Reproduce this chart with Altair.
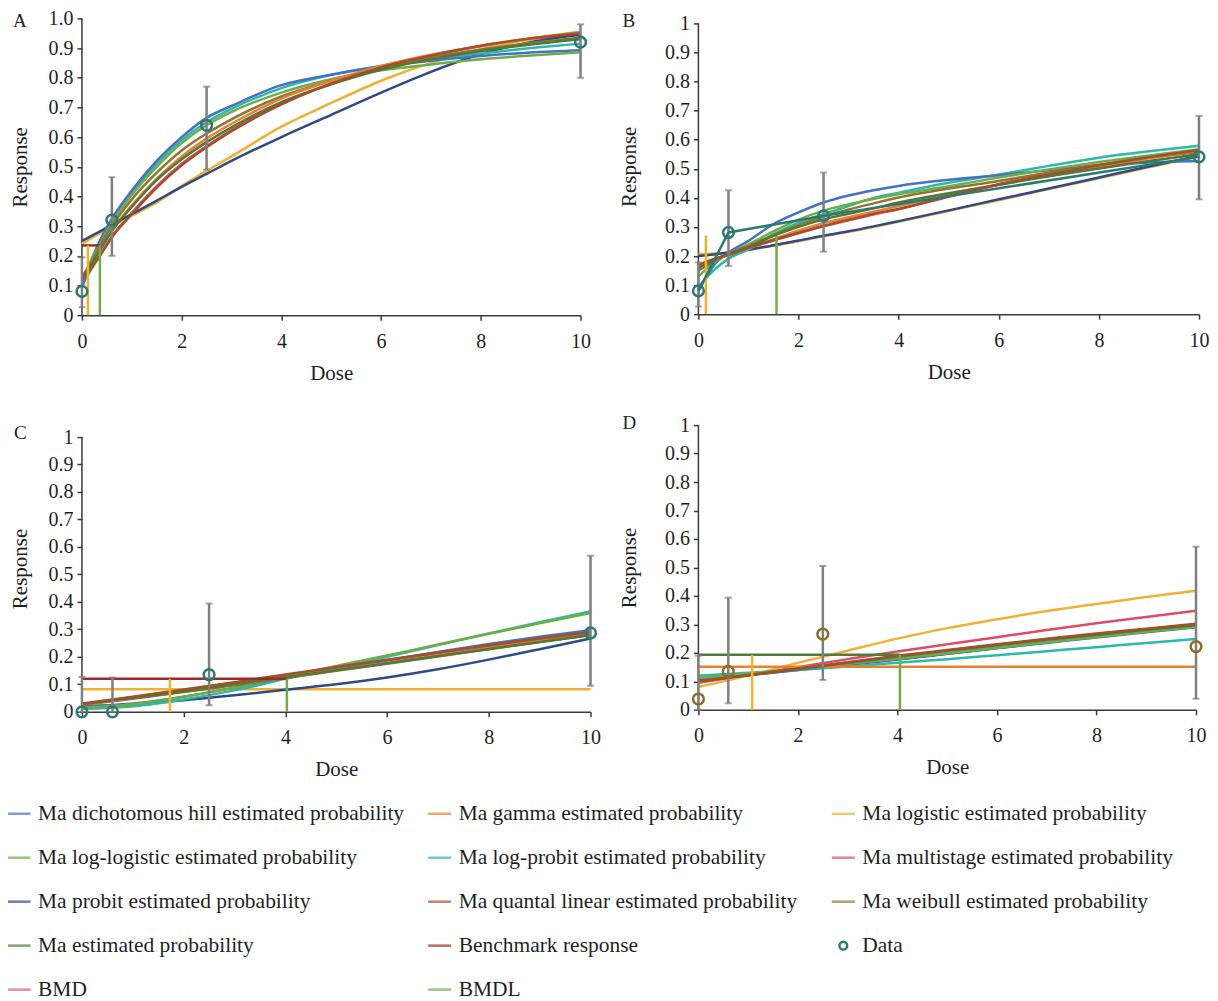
import altair as alt
import pandas as pd

FONT = "Liberation Serif"
TXT = "#1f1f1f"
AXIS_COLOR = "#3a3a3a"

# ---------------- model names / colours ----------------
MODEL_KEYS = ["hill", "gamma", "logistic", "loglogistic", "logprobit",
              "multistage", "probit", "quantal", "weibull", "ma"]
MODEL_COLORS = ["#4472C4", "#ED7D31", "#F0B132", "#70AD47", "#2CB9A8",
                "#DE4C66", "#2E4A87", "#A0502A", "#8E7436", "#4E7A33"]
DRAW_ORDER = ["multistage", "logistic", "probit", "logprobit", "hill",
              "loglogistic", "weibull", "gamma", "ma", "quantal"]

BMR_RED = "#9C2A2C"
BMR_GREEN = "#52793A"
BMD_YELLOW = "#F3B226"
BMDL_GREEN = "#70AD47"
DATA_TEAL = "#2B7A72"
DATA_BROWN = "#8E6C2A"
ERR_GRAY = "#7F7F7F"

X_TICKS = [0, 2, 4, 6, 8, 10]
Y_TICKS = [0, 0.1, 0.2, 0.3, 0.4, 0.5, 0.6, 0.7, 0.8, 0.9, 1.0]

# ---------------- panel A ----------------
A_DOSE = [0, 0.2, 0.4, 0.6, 1, 1.5, 2, 2.5, 3, 4, 5, 6, 7, 8, 9, 10]
A_CURVES = {
    "hill":        [0.09, 0.19, 0.265, 0.325, 0.42, 0.52, 0.6, 0.665, 0.705, 0.775, 0.81, 0.838, 0.857, 0.873, 0.885, 0.893],
    "logprobit":   [0.10, 0.16, 0.24, 0.31, 0.41, 0.51, 0.59, 0.65, 0.695, 0.765, 0.81, 0.84, 0.865, 0.882, 0.90, 0.915],
    "loglogistic": [0.12, 0.19, 0.25, 0.31, 0.405, 0.50, 0.58, 0.64, 0.685, 0.75, 0.795, 0.825, 0.845, 0.862, 0.875, 0.886],
    "weibull":     [0.12, 0.18, 0.245, 0.30, 0.39, 0.48, 0.555, 0.612, 0.66, 0.737, 0.79, 0.835, 0.868, 0.895, 0.917, 0.935],
    "gamma":       [0.13, 0.175, 0.23, 0.285, 0.37, 0.46, 0.535, 0.595, 0.645, 0.73, 0.79, 0.84, 0.878, 0.907, 0.933, 0.953],
    "ma":          [0.13, 0.175, 0.23, 0.283, 0.365, 0.455, 0.525, 0.583, 0.633, 0.718, 0.778, 0.827, 0.862, 0.89, 0.912, 0.93],
    "quantal":     [0.12, 0.16, 0.21, 0.262, 0.34, 0.43, 0.505, 0.566, 0.62, 0.71, 0.78, 0.835, 0.875, 0.908, 0.932, 0.95],
    "multistage":  [0.12, 0.162, 0.213, 0.265, 0.345, 0.435, 0.51, 0.57, 0.623, 0.712, 0.781, 0.835, 0.874, 0.906, 0.93, 0.948],
    "probit":      [0.25, 0.268, 0.286, 0.305, 0.34, 0.386, 0.432, 0.476, 0.52, 0.60, 0.675, 0.75, 0.82, 0.88, 0.92, 0.945],
    "logistic":    [0.24, 0.26, 0.28, 0.30, 0.335, 0.38, 0.435, 0.486, 0.535, 0.635, 0.715, 0.79, 0.85, 0.895, 0.93, 0.955],
}
A_DATA_DOSE = [0, 0.6, 2.5, 10]
A_DATA_RESP = [0.08, 0.32, 0.64, 0.92]
A_DATA_LO = [0.027, 0.20, 0.49, 0.80]
A_DATA_HI = [0.195, 0.465, 0.77, 0.98]

# ---------------- panel B ----------------
B_DOSE = [0, 0.3, 0.6, 1, 1.5, 2, 2.5, 3, 3.5, 4, 5, 6, 7, 8, 9, 10]
B_CURVES = {
    "hill":        [0.08, 0.166, 0.212, 0.252, 0.31, 0.35, 0.384, 0.408, 0.426, 0.441, 0.462, 0.478, 0.495, 0.512, 0.522, 0.527],
    "logprobit":   [0.095, 0.15, 0.191, 0.223, 0.275, 0.315, 0.344, 0.372, 0.40, 0.418, 0.452, 0.48, 0.51, 0.538, 0.56, 0.579],
    "loglogistic": [0.13, 0.175, 0.207, 0.24, 0.285, 0.325, 0.356, 0.378, 0.396, 0.412, 0.44, 0.47, 0.498, 0.523, 0.546, 0.567],
    "weibull":     [0.15, 0.18, 0.208, 0.235, 0.272, 0.307, 0.336, 0.36, 0.381, 0.401, 0.432, 0.458, 0.487, 0.514, 0.538, 0.558],
    "ma":          [0.16, 0.185, 0.208, 0.23, 0.269, 0.30, 0.326, 0.345, 0.364, 0.384, 0.416, 0.445, 0.474, 0.501, 0.527, 0.55],
    "gamma":       [0.165, 0.188, 0.206, 0.228, 0.258, 0.288, 0.313, 0.333, 0.352, 0.372, 0.41, 0.445, 0.477, 0.507, 0.536, 0.563],
    "quantal":     [0.17, 0.189, 0.204, 0.228, 0.255, 0.28, 0.304, 0.325, 0.345, 0.362, 0.405, 0.447, 0.48, 0.512, 0.54, 0.565],
    "multistage":  [0.168, 0.187, 0.203, 0.226, 0.253, 0.278, 0.302, 0.323, 0.343, 0.361, 0.404, 0.446, 0.479, 0.511, 0.539, 0.564],
    "probit":      [0.20, 0.205, 0.212, 0.222, 0.237, 0.253, 0.27, 0.285, 0.302, 0.32, 0.357, 0.395, 0.432, 0.47, 0.508, 0.545],
    "logistic":    [0.207, 0.209, 0.212, 0.221, 0.235, 0.251, 0.268, 0.283, 0.30, 0.318, 0.355, 0.392, 0.43, 0.467, 0.505, 0.542],
}
B_DATA_DOSE = [0, 0.6, 2.5, 10]
B_DATA_RESP = [0.08, 0.281, 0.338, 0.541]
B_DATA_LO = [0.026, 0.166, 0.215, 0.395]
B_DATA_HI = [0.178, 0.426, 0.487, 0.682]

# ---------------- panel C ----------------
C_DOSE = [0, 1, 2, 3, 4, 5, 6, 7, 8, 9, 10]
C_CURVES = {
    "hill":        [0.018, 0.03, 0.055, 0.088, 0.125, 0.157, 0.188, 0.218, 0.247, 0.273, 0.297],
    "gamma":       [0.028, 0.05, 0.075, 0.10, 0.126, 0.152, 0.178, 0.205, 0.232, 0.258, 0.283],
    "logistic":    [0.082, 0.082, 0.082, 0.082, 0.082, 0.082, 0.082, 0.082, 0.082, 0.082, 0.082],
    "loglogistic": [0.015, 0.028, 0.055, 0.088, 0.128, 0.167, 0.205, 0.245, 0.284, 0.322, 0.36],
    "logprobit":   [0.01, 0.02, 0.045, 0.078, 0.12, 0.16, 0.20, 0.243, 0.285, 0.326, 0.366],
    "multistage":  [0.028, 0.053, 0.079, 0.106, 0.133, 0.16, 0.187, 0.213, 0.239, 0.264, 0.288],
    "probit":      [0.02, 0.028, 0.042, 0.06, 0.08, 0.10, 0.125, 0.155, 0.19, 0.228, 0.267],
    "quantal":     [0.03, 0.055, 0.081, 0.108, 0.136, 0.163, 0.19, 0.216, 0.242, 0.267, 0.29],
    "weibull":     [0.025, 0.048, 0.072, 0.097, 0.123, 0.149, 0.175, 0.201, 0.228, 0.254, 0.279],
    "ma":          [0.028, 0.05, 0.074, 0.10, 0.126, 0.151, 0.177, 0.203, 0.229, 0.254, 0.28],
}
C_DATA_DOSE = [0, 0.6, 2.5, 10]
C_DATA_RESP = [0.0, 0.0, 0.135, 0.287]
C_DATA_LO = [0.0, 0.0, 0.024, 0.095]
C_DATA_HI = [0.127, 0.125, 0.394, 0.568]

# ---------------- panel D ----------------
D_DOSE = [0, 1, 2, 3, 4, 5, 6, 7, 8, 9, 10]
D_CURVES = {
    "hill":        [0.11, 0.125, 0.142, 0.16, 0.178, 0.197, 0.216, 0.235, 0.254, 0.272, 0.29],
    "gamma":       [0.151, 0.151, 0.151, 0.151, 0.151, 0.151, 0.151, 0.151, 0.151, 0.151, 0.151],
    "logistic":    [0.08, 0.12, 0.165, 0.208, 0.25, 0.287, 0.318, 0.347, 0.372, 0.396, 0.418],
    "loglogistic": [0.112, 0.127, 0.144, 0.162, 0.18, 0.199, 0.218, 0.237, 0.256, 0.274, 0.292],
    "logprobit":   [0.12, 0.13, 0.14, 0.152, 0.165, 0.178, 0.192, 0.206, 0.22, 0.235, 0.249],
    "multistage":  [0.095, 0.122, 0.15, 0.178, 0.205, 0.23, 0.255, 0.28, 0.304, 0.326, 0.348],
    "probit":      [0.105, 0.122, 0.14, 0.158, 0.177, 0.197, 0.217, 0.237, 0.257, 0.275, 0.292],
    "quantal":     [0.10, 0.122, 0.145, 0.167, 0.19, 0.21, 0.23, 0.25, 0.268, 0.285, 0.302],
    "weibull":     [0.10, 0.121, 0.144, 0.166, 0.188, 0.208, 0.228, 0.248, 0.266, 0.283, 0.30],
    "ma":          [0.10, 0.121, 0.143, 0.165, 0.187, 0.207, 0.227, 0.246, 0.264, 0.281, 0.298],
}
D_DATA_DOSE = [0, 0.6, 2.5, 10]
D_DATA_RESP = [0.038, 0.135, 0.266, 0.222]
D_DATA_LO = [0.0, 0.023, 0.105, 0.039]
D_DATA_HI = [0.19, 0.394, 0.505, 0.573]

# benchmark response / BMD / BMDL per panel
BMR = {"A": 0.235, "B": 0.27, "C": 0.12, "D": 0.193}
BMD = {"A": 0.12, "B": 0.15, "C": 1.73, "D": 1.08}
BMDL = {"A": 0.36, "B": 1.56, "C": 4.03, "D": 4.05}

# legend
LEGEND_NAMES = [
    "Ma dichotomous hill estimated probability", "Ma gamma estimated probability",
    "Ma logistic estimated probability", "Ma log-logistic estimated probability",
    "Ma log-probit estimated probability", "Ma multistage estimated probability",
    "Ma probit estimated probability", "Ma quantal linear estimated probability",
    "Ma weibull estimated probability", "Ma estimated probability",
    "Benchmark response", "Data", "BMD", "BMDL",
]
LEGEND_COLORS = MODEL_COLORS + [BMR_RED, DATA_TEAL, "#E0566E", BMDL_GREEN]

ONE = pd.DataFrame({"k": [0]})
AXIS_SPAN = pd.DataFrame({"y0": [0.0], "y1": [1.0]})


def curves_df(dose, curves):
    rows = []
    for m in DRAW_ORDER:
        for d, v in zip(dose, curves[m]):
            rows.append({"model": m, "dose": d, "p": v})
    return pd.DataFrame(rows)


def panel(key, dose, curves, ddose, dresp, dlo, dhi, W, H, ymax, frame, letter_xy,
          title_x, label_expr, bmr_color, data_color, show_bmr=True,
          data_line=False):
    xs = alt.Scale(domain=[0, 10], nice=False, zero=False)
    ys = alt.Scale(domain=[0, ymax], nice=False)
    xax = alt.Axis(values=X_TICKS, title="Dose", grid=False, tickSize=5,
                   labelPadding=11, titleY=47, labelFlush=False,
                   labelOverlap=False)
    yax = alt.Axis(values=Y_TICKS, title="Response", grid=False, tickSize=5,
                   labelPadding=4, titleX=title_x, labelExpr=label_expr,
                   labelFlush=False, labelOverlap=False, domain=False)

    def X(f):
        return alt.X(f, scale=xs, axis=xax)

    def Y(f):
        return alt.Y(f, scale=ys, axis=yax)

    layers = []
    fl, ft, fr, fb = frame
    layers.append(alt.Chart(ONE).mark_rect(opacity=0).encode(
        x=alt.value(fl), x2=alt.value(W + fr), y=alt.value(ft), y2=alt.value(H + fb)))
    layers.append(alt.Chart(ONE).mark_text(
        align="left", baseline="top", fontSize=19, font=FONT, color=TXT).encode(
        x=alt.value(letter_xy[0]), y=alt.value(letter_xy[1]), text=alt.value(key)))

    # y axis line, only from 0 to 1
    layers.append(alt.Chart(AXIS_SPAN).mark_rule(color=AXIS_COLOR, strokeWidth=1.5).encode(
        x=alt.value(0), y=Y("y0:Q"), y2="y1:Q"))

    cdf = curves_df(dose, curves)
    layers.append(alt.Chart(cdf).mark_line(interpolate="monotone", strokeWidth=2.5).encode(
        x=X("dose:Q"), y=Y("p:Q"),
        color=alt.Color("model:N", scale=alt.Scale(domain=MODEL_KEYS, range=MODEL_COLORS),
                        legend=None),
        order=alt.Order("dose:Q")))

    ref = pd.DataFrame({"bmr": [BMR[key]], "bmd": [BMD[key]], "bmdl": [BMDL[key]], "zero": [0.0]})
    if show_bmr:
        layers.append(alt.Chart(ref).mark_rule(strokeWidth=2.5, color=bmr_color).encode(
            x=X("zero:Q"), x2="bmdl:Q", y=Y("bmr:Q")))
    layers.append(alt.Chart(ref).mark_rule(strokeWidth=2.5, color=BMD_YELLOW).encode(
        x=X("bmd:Q"), y=Y("zero:Q"), y2="bmr:Q"))
    layers.append(alt.Chart(ref).mark_rule(strokeWidth=2.5, color=BMDL_GREEN).encode(
        x=X("bmdl:Q"), y=Y("zero:Q"), y2="bmr:Q"))

    ddf = pd.DataFrame({"dose": ddose, "resp": dresp, "lo": dlo, "hi": dhi})
    layers.append(alt.Chart(ddf).mark_rule(strokeWidth=2.5, color=ERR_GRAY).encode(
        x=X("dose:Q"), y=Y("lo:Q"), y2="hi:Q"))
    caps = pd.DataFrame({"dose": ddose + ddose, "v": dlo + dhi})
    layers.append(alt.Chart(caps).mark_tick(orient="horizontal", size=7, thickness=2,
                                            color=ERR_GRAY).encode(
        x=X("dose:Q"), y=Y("v:Q")))
    if data_line:
        layers.append(alt.Chart(ddf).mark_line(strokeWidth=2.5, color=data_color).encode(
            x=X("dose:Q"), y=Y("resp:Q")))
    layers.append(alt.Chart(ddf).mark_point(shape="circle", filled=False, size=115,
                                            strokeWidth=2.5, color=data_color,
                                            opacity=1).encode(
        x=X("dose:Q"), y=Y("resp:Q")))
    return alt.layer(*layers).properties(width=W, height=H)


EXPR_A = "datum.value == 0 ? '0' : format(datum.value, '.1f')"
EXPR_O = "format(datum.value, '.1~f')"

# panel geometry: plot tops in a row share one line, so B and C get a little
# extra room above 1 (their axis line is drawn only from 0 to 1)
pA = panel("A", A_DOSE, A_CURVES, A_DATA_DOSE, A_DATA_RESP, A_DATA_LO, A_DATA_HI,
           499, 297, 1.0, (-76, -12, 15, 77), (-69, -6), -51, EXPR_A, BMR_RED, DATA_TEAL)
pB = panel("B", B_DOSE, B_CURVES, B_DATA_DOSE, B_DATA_RESP, B_DATA_LO, B_DATA_HI,
           501, 296, 1.0172, (-81, -12, 10, 78), (-76, -6), -59, EXPR_O, BMR_RED, DATA_TEAL,
           show_bmr=False, data_line=True)
pC = panel("C", C_DOSE, C_CURVES, C_DATA_DOSE, C_DATA_RESP, C_DATA_LO, C_DATA_HI,
           509, 287, 1.0436, (-76, -14, 15, 71.5), (-68, -1), -51, EXPR_O, BMR_RED, DATA_TEAL)
pD = panel("D", D_DOSE, D_CURVES, D_DATA_DOSE, D_DATA_RESP, D_DATA_LO, D_DATA_HI,
           498, 285, 1.0, (-81, -14, 12, 73.5), (-76, -11), -59, EXPR_O, BMR_GREEN, DATA_BROWN)

# ---------------- legend ----------------
leg = pd.DataFrame({
    "name": LEGEND_NAMES,
    "col": [i % 3 for i in range(len(LEGEND_NAMES))],
    "row": [i // 3 for i in range(len(LEGEND_NAMES))],
})
lx = alt.Scale(domain=[0, 1, 2], range=[-63, 358, 762])
ly = alt.Scale(domain=[0, 4], range=[4, 180])
lcolor = alt.Color("name:N", scale=alt.Scale(domain=LEGEND_NAMES, range=LEGEND_COLORS), legend=None)
leg_frame = alt.Chart(ONE).mark_rect(opacity=0).encode(
    x=alt.value(-76), x2=alt.value(1000), y=alt.value(0), y2=alt.value(188))
leg_sym = alt.Chart(leg).mark_tick(orient="horizontal", size=23, thickness=2.5).encode(
    x=alt.X("col:Q", scale=lx, axis=None), y=alt.Y("row:Q", scale=ly, axis=None),
    color=lcolor).transform_filter("datum.name != 'Data'")
leg_dot = alt.Chart(leg).mark_point(shape="circle", filled=False, size=60,
                                    strokeWidth=2.5, opacity=1).encode(
    x=alt.X("col:Q", scale=lx, axis=None), y=alt.Y("row:Q", scale=ly, axis=None),
    color=lcolor).transform_filter("datum.name == 'Data'")
leg_txt = alt.Chart(leg).mark_text(align="left", baseline="middle", dx=19, fontSize=21.5,
                                   font=FONT, color=TXT).encode(
    x=alt.X("col:Q", scale=lx, axis=None), y=alt.Y("row:Q", scale=ly, axis=None),
    text="name:N")
legend = alt.layer(leg_frame, leg_sym, leg_dot, leg_txt).properties(width=1000, height=188)

row1 = alt.hconcat(pA, pB, spacing=22)
row2 = alt.hconcat(pC, pD, spacing=12)

chart = alt.vconcat(row1, row2, legend, spacing=19).resolve_scale(
    color="independent"
).properties(
    padding={"left": -2, "top": -2, "right": 0, "bottom": 0}
).configure_view(stroke=None).configure_axis(
    labelFont=FONT, titleFont=FONT, labelFontSize=20, titleFontSize=21,
    titleFontWeight="normal", labelColor=TXT, titleColor=TXT,
    domainColor=AXIS_COLOR, tickColor=AXIS_COLOR, domainWidth=1.5, tickWidth=1.5,
)

chart.save("out.html", embed_options={"renderer": "svg", "actions": False})
